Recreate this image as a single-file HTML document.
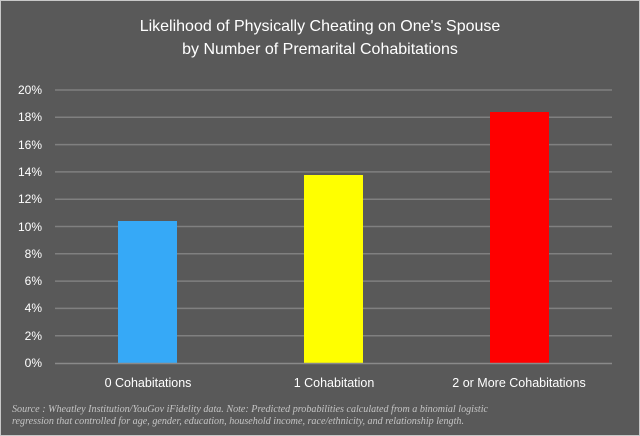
<!DOCTYPE html>
<html><head><meta charset="utf-8"><style>
html,body{margin:0;padding:0;background:#595959;}
svg{display:block;}
</style></head><body>
<svg width="640" height="436" xmlns="http://www.w3.org/2000/svg" font-family="'Liberation Sans', sans-serif">
<rect x="0" y="0" width="640" height="436" fill="#595959"/>
<rect x="0.5" y="0.5" width="639" height="435" fill="none" stroke="#c8c8c8" stroke-width="1"/>
<text x="320" y="31" fill="#fff" font-size="16" text-anchor="middle">Likelihood of Physically Cheating on One's Spouse</text>
<text x="320" y="54" fill="#fff" font-size="16" text-anchor="middle">by Number of Premarital Cohabitations</text>
<g stroke="#808080" stroke-width="1.5">
<line x1="55" x2="612" y1="90" y2="90"/>
<line x1="55" x2="612" y1="117.3" y2="117.3"/>
<line x1="55" x2="612" y1="144.6" y2="144.6"/>
<line x1="55" x2="612" y1="171.9" y2="171.9"/>
<line x1="55" x2="612" y1="199.2" y2="199.2"/>
<line x1="55" x2="612" y1="226.5" y2="226.5"/>
<line x1="55" x2="612" y1="253.8" y2="253.8"/>
<line x1="55" x2="612" y1="281.1" y2="281.1"/>
<line x1="55" x2="612" y1="308.4" y2="308.4"/>
<line x1="55" x2="612" y1="335.7" y2="335.7"/>
</g>
<g fill="#fff" font-size="12" text-anchor="end">
<text x="42" y="94">20%</text>
<text x="42" y="121">18%</text>
<text x="42" y="149">16%</text>
<text x="42" y="176">14%</text>
<text x="42" y="203">12%</text>
<text x="42" y="231">10%</text>
<text x="42" y="258">8%</text>
<text x="42" y="285">6%</text>
<text x="42" y="312">4%</text>
<text x="42" y="340">2%</text>
<text x="42" y="367">0%</text>
</g>
<rect x="118" y="221" width="59" height="142" fill="#36a9f7"/>
<rect x="304" y="175" width="59" height="188" fill="#ffff00"/>
<rect x="490" y="112" width="59" height="251" fill="#ff0000"/>
<line x1="55" x2="612" y1="363.5" y2="363.5" stroke="#8a8a8a" stroke-width="1.5"/>
<g fill="#fff" font-size="12.5" text-anchor="middle">
<text x="148" y="387">0 Cohabitations</text>
<text x="334" y="387">1 Cohabitation</text>
<text x="519" y="387">2 or More Cohabitations</text>
</g>
<g fill="#c4c4c4" font-size="10" font-style="italic" font-family="'Liberation Serif', serif">
<text x="12" y="412" textLength="476" lengthAdjust="spacingAndGlyphs">Source : Wheatley Institution/YouGov iFidelity data. Note: Predicted probabilities calculated from a binomial logistic</text>
<text x="12" y="424" textLength="452" lengthAdjust="spacingAndGlyphs">regression that controlled for age, gender, education, household income, race/ethnicity, and relationship length.</text>
</g>
</svg>
</body></html>
